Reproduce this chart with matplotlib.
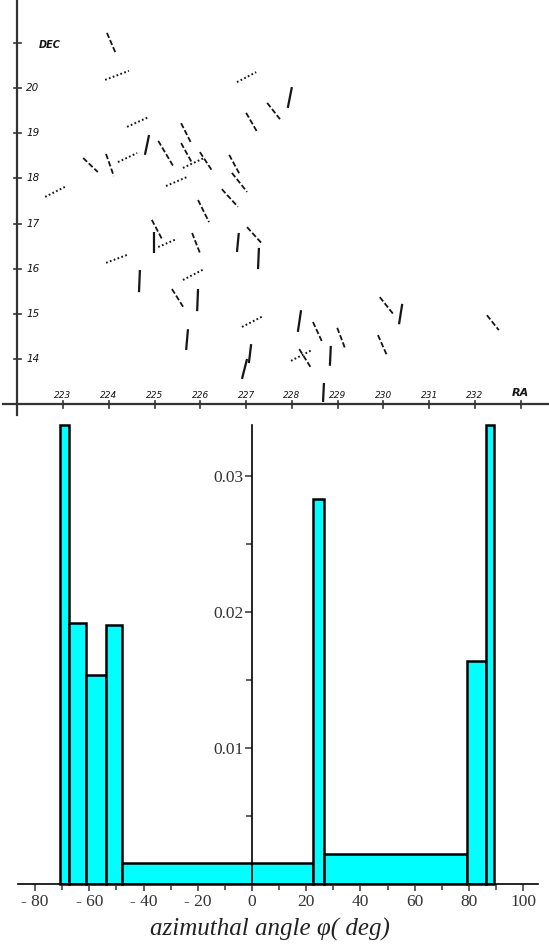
import numpy as np
import matplotlib.pyplot as plt

# ---- sky map: polarization segments, end points in (RA, DEC) degrees
seg_ra1 = [223.96, 223.92, 226.80, 227.00, 227.46, 228.00, 224.40, 224.88, 224.20, 223.94,
           223.44, 225.58, 225.08, 225.58, 225.62, 225.99, 226.63, 226.69, 225.25, 222.61,
           226.47, 225.95, 224.94, 224.99, 225.08, 225.82, 226.84, 227.02, 227.28, 223.94,
           224.68, 225.62, 225.38, 225.95, 225.73, 226.91, 227.11, 227.02, 228.20, 228.46,
           228.99, 227.98, 228.16, 228.85, 228.70, 229.92, 230.41, 229.88, 232.26]
seg_dec1 = [21.22, 20.18, 20.13, 19.45, 19.67, 20.02, 19.14, 18.96, 18.36, 18.54,
            18.45, 19.22, 18.83, 18.78, 18.23, 18.58, 18.52, 18.12, 17.83, 17.59,
            17.76, 17.52, 17.08, 16.81, 16.48, 16.79, 16.79, 16.92, 16.46, 16.13,
            15.97, 15.75, 15.55, 15.55, 14.66, 14.71, 14.33, 14.00, 15.08, 14.82,
            14.69, 13.96, 14.22, 14.29, 13.47, 15.37, 15.22, 14.53, 14.97]
seg_ra2 = [224.16, 224.44, 227.22, 227.24, 227.74, 227.91, 224.88, 224.79, 224.62, 224.11,
           223.76, 225.80, 225.42, 225.82, 226.08, 226.25, 226.87, 227.02, 225.71, 223.04,
           226.82, 226.19, 225.16, 224.99, 225.49, 225.99, 226.80, 227.35, 227.26, 224.44,
           224.66, 226.08, 225.64, 225.93, 225.69, 227.37, 227.06, 226.91, 228.13, 228.66,
           229.16, 228.44, 228.42, 228.83, 228.68, 230.21, 230.34, 230.08, 232.52]
seg_dec2 = [20.75, 20.38, 20.35, 19.03, 19.31, 19.56, 19.36, 18.52, 18.56, 18.05,
            18.14, 18.78, 18.25, 18.34, 18.45, 18.18, 18.07, 17.70, 18.03, 17.81,
            17.37, 17.03, 16.66, 16.35, 16.66, 16.35, 16.37, 16.55, 15.99, 16.32,
            15.48, 15.99, 15.13, 15.06, 14.20, 14.95, 13.91, 13.56, 14.60, 14.38,
            14.24, 14.20, 13.80, 13.85, 13.05, 15.00, 14.77, 14.07, 14.64]
seg_kind = ['dash', 'dot', 'dot', 'dash', 'dash', 'solid', 'dot', 'solid', 'dot', 'dash',
            'dash', 'dash', 'dash', 'dash', 'dot', 'dash', 'dash', 'dash', 'dot', 'dot',
            'dash', 'dash', 'dash', 'solid', 'dot', 'dash', 'solid', 'dash', 'solid', 'dot',
            'solid', 'dot', 'dash', 'solid', 'solid', 'dot', 'solid', 'solid', 'solid', 'dash',
            'dash', 'dot', 'dash', 'solid', 'solid', 'dash', 'solid', 'dash', 'dash']

ra_ticks = [223, 224, 225, 226, 227, 228, 229, 230, 231, 232]
dec_ticks = [14, 15, 16, 17, 18, 19, 20]

# ---- histogram of azimuthal angles (bin edges in deg, density)
bin_edges = [-70.8, -67.5, -61.3, -54.0, -48.1, 22.4, 26.4, 79.2, 86.2, 89.3]
density = [0.03375, 0.01921, 0.01537, 0.01902, 0.00157, 0.02829, 0.00218, 0.01642, 0.03375]

W, H = 549, 951
fig = plt.figure(figsize=(W / 100, H / 100), dpi=100)

# top panel: hand drawn chart of the field
ax1 = fig.add_axes([0, (H - 420) / H, 1, 420 / H])
ax1.set_xlim(221.624, 233.616)
ax1.set_ylim(12.65, 21.948)
ax1.axis('off')

ink = '#151515'
styles = {'solid': dict(lw=1.6, ls='-'),
          'dash': dict(lw=1.3, dashes=(3, 1.3)),
          'dot': dict(lw=1.4, dashes=(0.9, 1.2))}
for i in range(len(seg_ra1)):
    ax1.plot([seg_ra1[i], seg_ra2[i]], [seg_dec1[i], seg_dec2[i]], color=ink,
             solid_capstyle='butt', **styles[seg_kind[i]])

# axes drawn by hand
ax1.plot([222, 222], [12.75, 21.948], color='#333', lw=1.6, clip_on=False)
ax1.plot([221.7, 233.616], [13, 13], color='#333', lw=1.6, clip_on=False)
for d in dec_ticks + [21]:
    ax1.plot([221.93, 222.08], [d, d], color='#333', lw=1.2)
for r in ra_ticks + [233]:
    ax1.plot([r, r], [12.92, 13.08], color='#333', lw=1.2)
for d in dec_ticks:
    ax1.text(222.2, d, str(d), fontsize=7.5, style='italic', color=ink,
             ha='left', va='center')
for r in ra_ticks:
    ax1.text(r, 13.1, str(r), fontsize=6.5, style='italic', color=ink,
             ha='center', va='bottom')
ax1.text(222.48, 20.95, 'DEC', fontsize=7, style='italic', weight='bold',
         color=ink, ha='left', va='center')
ax1.text(233.0, 13.13, 'RA', fontsize=8, style='italic', weight='bold',
         color=ink, ha='center', va='bottom')

# bottom panel: histogram
ax2 = fig.add_axes([18 / W, (H - 884) / H, 520 / W, 459 / H])
ax2.bar(bin_edges[:-1], density, width=np.diff(bin_edges), align='edge',
        color='#00ffff', edgecolor='black', linewidth=1.8, clip_on=False)
ax2.set_xlim(-86.3, 105.5)
ax2.set_ylim(0, 0.03375)
ax2.spines['left'].set_position(('data', 0))
ax2.spines['bottom'].set_position(('data', 0))
ax2.spines['top'].set_visible(False)
ax2.spines['right'].set_visible(False)
for s in ['left', 'bottom']:
    ax2.spines[s].set_linewidth(1.2)
    ax2.spines[s].set_zorder(5)

serif = 'Liberation Serif'
ax2.set_xticks(np.arange(-80, 101, 20))
ax2.set_xticks(np.arange(-80, 101, 10), minor=True)
ax2.set_xticklabels([str(v).replace('-', '- ') for v in range(-80, 101, 20)])
ax2.set_yticks([0.01, 0.02, 0.03])
ax2.set_yticks([0.005, 0.015, 0.025], minor=True)
ax2.set_yticklabels(['0.01', '0.02', '0.03'])
ax2.tick_params(axis='both', which='both', direction='out', width=1.1,
                colors='#333', labelsize=12.5)
ax2.tick_params(axis='both', which='major', length=5)
ax2.tick_params(axis='both', which='minor', length=4)
ax2.tick_params(axis='x', pad=2)
ax2.tick_params(axis='y', pad=1)
for lab in ax2.get_xticklabels() + ax2.get_yticklabels():
    lab.set_fontfamily(serif)

fig.text(270 / W, (H - 929) / H, 'azimuthal angle φ( deg)', fontsize=18,
         family=serif, style='italic', color='#222', ha='center', va='center')

fig.savefig('out.png', dpi=100)
